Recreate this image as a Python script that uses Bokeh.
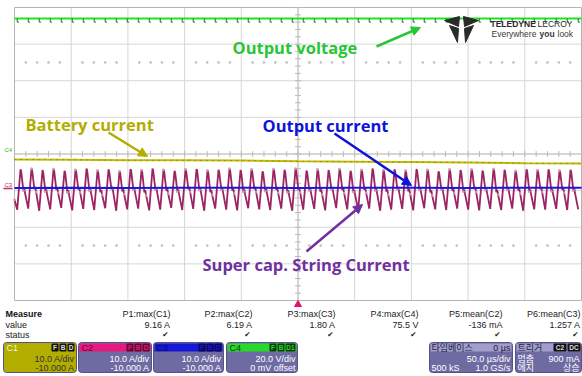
import numpy as np
from bokeh.plotting import figure
from bokeh.models import Range1d, Arrow, NormalHead
from bokeh.core.properties import value
from bokeh.embed import file_html
from bokeh.resources import INLINE

# ---------------- data ----------------
us_per_div = 50.0
x_divs = 10
y_divs = 8

slow_t = [-250, -200, -150, -100, -50, 0, 50, 100, 150, 200, 250]          # µs
output_voltage = [3.70, 3.70, 3.70, 3.70, 3.70, 3.70, 3.70, 3.70, 3.70, 3.70, 3.70]   # div
battery_current = [-0.15, -0.16, -0.17, -0.17, -0.18, -0.20, -0.21, -0.22, -0.23, -0.25, -0.26]
output_current = [-0.93, -0.92, -0.93, -0.92, -0.92, -0.93, -0.92, -0.92, -0.93, -0.92, -0.92]

sc_period_us = 9.70
sc_first_trough_us = -247.6
sc_peak = [-0.42, -0.40, -0.44, -0.41, -0.46, -0.43, -0.40, -0.45, -0.42, -0.47,
           -0.41, -0.44, -0.40, -0.43, -0.46, -0.42, -0.41, -0.45, -0.43, -0.40,
           -0.44, -0.42, -0.47, -0.41, -0.43, -0.40, -0.45, -0.42, -0.44, -0.41,
           -0.46, -0.43, -0.40, -0.44, -0.42, -0.45, -0.41, -0.43, -0.47, -0.42,
           -0.44, -0.42, -0.45, -0.41, -0.43, -0.46, -0.42, -0.44, -0.42, -0.45,
           -0.43, -0.44]
sc_knee = [-1.00, -0.96, -1.03, -0.98, -1.05, -0.97, -1.00, -1.04, -0.95, -1.02,
           -0.98, -1.05, -0.97, -1.00, -1.03, -0.96, -0.99, -1.04, -0.98, -1.00,
           -1.03, -0.96, -1.02, -0.98, -1.05, -0.97, -1.00, -1.03, -0.96, -0.99,
           -1.04, -0.98, -1.00, -1.03, -0.96, -1.02, -0.98, -1.05, -0.97, -1.00,
           -1.03, -0.96, -0.99, -1.04, -0.98, -1.00, -1.03, -0.96, -1.02, -0.98,
           -1.00, -1.03]
sc_trough = [-1.52, -1.49, -1.55, -1.51, -1.47, -1.54, -1.50, -1.53, -1.48, -1.55,
             -1.51, -1.49, -1.54, -1.52, -1.47, -1.53, -1.50, -1.55, -1.49, -1.52,
             -1.54, -1.48, -1.51, -1.53, -1.49, -1.55, -1.52, -1.50, -1.54, -1.48,
             -1.51, -1.53, -1.49, -1.55, -1.52, -1.50, -1.54, -1.48, -1.51, -1.53,
             -1.49, -1.52, -1.54, -1.50, -1.53, -1.49, -1.55, -1.51, -1.52, -1.50,
             -1.53, -1.51]

meas_headers = ["P1:max(C1)", "P2:max(C2)", "P3:max(C3)", "P4:max(C4)", "P5:mean(C2)", "P6:mean(C3)"]
meas_values = ["9.16 A", "6.19 A", "1.80 A", "75.5 V", "-136 mA", "1.257 A"]

ch_names = ["C1", "C2", "C3", "C4"]
ch_scale = ["10.0 A/div", "10.0 A/div", "10.0 A/div", "20.0 V/div"]
ch_offset = ["-10.000 A", "-10.000 A", "-10.000 A", "0 mV offset"]
ch_badges = [["F", "B", "D"], ["F", "B", "D"], ["F", "B", "D"], ["F", "B", "D1"]]

# ---------------- geometry helpers (reference-pixel placement) ----------------
W, H = 582, 376
PX_US = us_per_div * x_divs / 567.0      # µs per screen px
PX_DIV = 1.0 / 36.625                     # div per screen px
XL = -250 - 14 * PX_US
XH = XL + W * PX_US
YH = 4 + 7 * PX_DIV
YL = YH - H * PX_DIV


def X(px):
    return XL + px * PX_US


def Y(py):
    return YH - py * PX_DIV


p = figure(width=W, height=H, output_backend="svg", toolbar_location=None, title=None,
           x_range=Range1d(XL, XH), y_range=Range1d(YL, YH),
           x_axis_location=None, y_axis_location=None,
           min_border=0, min_border_left=0, min_border_right=0,
           min_border_top=0, min_border_bottom=0)
p.grid.visible = False
p.outline_line_color = None
p.background_fill_color = "white"
p.border_fill_color = "white"

# ---------------- graticule ----------------
xl = [-250 + i * us_per_div for i in range(x_divs + 1)]
yl = [-4 + j for j in range(y_divs + 1)]
p.segment(x0=xl[1:-1], y0=-4, x1=xl[1:-1], y1=4, line_color="#d6d6d6", line_width=1)
p.segment(x0=-250, y0=yl[1:-1], x1=250, y1=yl[1:-1], line_color="#d6d6d6", line_width=1)
p.segment(x0=[-250, 250], y0=-4, x1=[-250, 250], y1=4, line_color="#b4b4b4", line_width=1)
p.segment(x0=-250, y0=[-4, 4], x1=250, y1=[-4, 4], line_color="#b4b4b4", line_width=1)

# dotted minor rows
dx = [-250 + i * 10 for i in range(51) if i % 5 != 0]
for yy in (2.5, -2.5):
    p.scatter(x=dx, y=[yy] * len(dx), size=1.5, color="#c4c4c4", marker="square")

# centre crosshair ticks
ty = [-4 + k * 0.2 for k in range(41)]
p.segment(x0=-2.6, y0=ty, x1=2.6, y1=ty, line_color="#b8b8b8", line_width=1)
tx = [-250 + k * 10 for k in range(51)]
p.segment(x0=tx, y0=-0.08, x1=tx, y1=0.08, line_color="#b8b8b8", line_width=1)
p.segment(x0=0, y0=-4, x1=0, y1=4, line_color="#c0c0c0", line_width=1)
p.segment(x0=-250, y0=0, x1=250, y1=0, line_color="#c0c0c0", line_width=1)

# ---------------- traces ----------------
# battery current (yellow)
p.line(slow_t, battery_current, line_color="#c2ba00", line_width=2)
p.line(slow_t, battery_current, line_color="#77700a", line_width=1, line_dash="1 5")

# super-cap string current (purple sawtooth: fast rise, slower fall with a kink)
n = min(len(sc_peak), len(sc_knee), len(sc_trough))
st, sv = [-250.0], [sc_knee[0] - 0.25]
for k in range(n):
    t0 = sc_first_trough_us + k * sc_period_us
    pts = [(0.0, sc_trough[k]), (0.30, sc_peak[k]), (0.36, sc_peak[k] - 0.05),
           (0.56, sc_knee[k]), (0.64, sc_knee[k] + 0.06), (0.72, sc_knee[k] - 0.08)]
    for f, v in pts:
        t = t0 + f * sc_period_us
        if t <= 250.0:
            st.append(t)
            sv.append(v)
p.line(st, sv, line_color="#9c2462", line_width=1.8)
p.scatter(st[::4], sv[::4], size=1.5, color="#d09ab8", marker="square")

# output current (blue)
p.line(slow_t, output_current, line_color="#1818e4", line_width=2)

# output voltage (green) with switching marks
p.line(slow_t, output_voltage, line_color="#1ee61e", line_width=2)
gm = [sc_first_trough_us + k * sc_period_us for k in range(n)]
gm = [t for t in gm if -250 < t < 250]
p.segment(x0=gm, y0=3.70, x1=gm, y1=3.60, line_color="#2a6a2a", line_width=1)
p.segment(x0=gm, y0=3.60, x1=[t + 1.6 for t in gm], y1=3.60, line_color="#2a6a2a", line_width=1)

# channel markers on the left
p.text(x=[X(4)], y=[Y(149)], text=["C4"], text_font=value("Liberation Sans"),
       text_font_size=value("6px"), text_color="#22bb22", text_baseline="middle")
p.text(x=[X(4)], y=[Y(184)], text=["C3"], text_font=value("Liberation Sans"),
       text_font_size=value("6px"), text_color="#c02a6a", text_baseline="middle")
p.segment(x0=[X(3)], y0=[Y(188)], x1=[X(12)], y1=[Y(188)], line_color="#c02a6a", line_width=1.5)

# trigger marker
p.scatter([0], [Y(304)], marker="triangle", size=7, color="#e0146e")

# ---------------- annotations ----------------
LBL = value("Open Sans")


def label(px, py, s, color):
    p.text(x=[X(px)], y=[Y(py)], text=[s], text_font=LBL, text_font_size=value("16.5px"),
           text_font_style="bold", text_color=color, text_baseline="middle")


def arrow(x0, y0, x1, y1, color):
    p.add_layout(Arrow(end=NormalHead(size=9, fill_color=color, line_color=color),
                       x_start=X(x0), y_start=Y(y0), x_end=X(x1), y_end=Y(y1),
                       line_color=color, line_width=2.5))


label(232, 47, "Output voltage", "#27c636")
arrow(376, 46, 420, 27, "#27c636")
label(25, 124, "Battery current", "#b3ad00")
arrow(108, 132, 147, 156, "#b3ad00")
label(262, 125, "Output current", "#0c14d8")
arrow(334, 133, 411, 185, "#0c14d8")
label(202, 264, "Super cap. String Current", "#7030a0")
arrow(306, 251, 362, 204, "#7030a0")

# ---------------- logo ----------------
wings = [
    [(444, 20), (459, 16), (458, 26)],
    [(478, 20), (463, 16), (464, 26)],
    [(449, 25), (458, 28), (457, 42)],
    [(473, 25), (464, 28), (465, 42)],
]
p.patches(xs=[[X(a) for a, b in w] for w in wings], ys=[[Y(b) for a, b in w] for w in wings],
          fill_color="#2a2a2a", line_color="#2a2a2a")
p.text(x=[X(490)], y=[Y(23)], text=["TELEDYNE"], text_font=value("Liberation Sans"),
       text_font_size=value("8.5px"), text_font_style="bold", text_color="#2a2a2a", text_baseline="middle")
p.text(x=[X(537)], y=[Y(23)], text=["LECROY"], text_font=value("Liberation Sans"),
       text_font_size=value("8.5px"), text_color="#2a2a2a", text_baseline="middle")
p.text(x=[X(491), X(539), X(557)], y=[Y(33)] * 3, text=["Everywhere", "you", "look"],
       text_font=value("Liberation Sans"), text_font_size=value("8.5px"),
       text_font_style=["normal", "bold", "normal"], text_color="#3a3a3a", text_baseline="middle")

# ---------------- measurement panel ----------------
AR = value("Liberation Sans")
FS = value("9px")
p.text(x=[X(5)], y=[Y(313)], text=["Measure"], text_font=AR, text_font_size=FS,
       text_font_style="bold", text_color="#111111", text_baseline="middle")
p.text(x=[X(5), X(5)], y=[Y(324), Y(334)], text=["value", "status"], text_font=AR,
       text_font_size=FS, text_color="#222222", text_baseline="middle")
right_px = [170, 252, 335, 418, 502, 580]
p.text(x=[X(r) for r in right_px], y=[Y(313)] * 6, text=meas_headers, text_font=AR,
       text_font_size=FS, text_color="#222222", text_align="right", text_baseline="middle")
p.text(x=[X(r) for r in right_px], y=[Y(324)] * 6, text=meas_values, text_font=AR,
       text_font_size=FS, text_color="#222222", text_align="right", text_baseline="middle")
p.text(x=[X(r - 5) for r in right_px], y=[Y(334)] * 6, text=["\u2714"] * 6, text_font=value("DejaVu Sans"),
       text_font_size=value("7.5px"), text_color="#222222", text_align="center", text_baseline="middle")

BODY = "#6e6aa2"
box_x = [(3, 76), (78, 151), (153, 223), (226, 297)]
head_col = ["#b3ad00", "#e8197e", "#1717d6", "#2ad82a"]
badge_bg = ["#111111", "#5a0a2c", "#0a0a55", "#0c3a0c"]
name_col = ["#f4f4d8", "#5a0a2c", "#0a0a55", "#0c3a0c"]
for i in range(4):
    l, r = box_x[i]
    body = head_col[0] if i == 0 else BODY
    p.quad(left=X(l), right=X(r), top=Y(342), bottom=Y(372), fill_color=body, line_color="#55528a",
           line_width=1, border_radius=3)
    p.quad(left=X(l + 1), right=X(r - 1), top=Y(343), bottom=Y(351), fill_color=head_col[i], line_color=None)
    p.text(x=[X(l + 3)], y=[Y(347)], text=[ch_names[i]], text_font=AR, text_font_size=FS,
           text_color=name_col[i], text_baseline="middle")
    tc = "#333333" if i == 0 else "#ffffff"
    p.text(x=[X(r - 2)] * 2, y=[Y(358), Y(367)], text=[ch_scale[i], ch_offset[i]], text_font=AR,
           text_font_size=FS, text_color=tc, text_align="right", text_baseline="middle")
    bx = r - 2
    for b in reversed(ch_badges[i]):
        w = 7 if len(b) == 1 else 10
        p.quad(left=X(bx - w), right=X(bx), top=Y(343), bottom=Y(351), fill_color=badge_bg[i],
               line_color=None, border_radius=1)
        p.text(x=[X(bx - w / 2)], y=[Y(347)], text=[b], text_font=AR, text_font_size=value("6.5px"),
               text_font_style="bold", text_color=head_col[i] if i else "#dddddd",
               text_align="center", text_baseline="middle")
        bx -= w + 1

# timebase & trigger boxes
KR = value("Noto Sans CJK KR")
for (l, r) in [(429, 512), (515, 581)]:
    p.quad(left=X(l), right=X(r), top=Y(342), bottom=Y(372), fill_color=BODY, line_color="#55528a",
           line_width=1, border_radius=3)
    p.quad(left=X(l + 1), right=X(r - 1), top=Y(343), bottom=Y(351), fill_color="#a29ecb", line_color=None)
p.text(x=[X(431)], y=[Y(347)], text=["타임베이스"], text_font=KR, text_font_size=FS,
       text_color="#222244", text_baseline="middle")
p.text(x=[X(510)], y=[Y(347)], text=["0 µs"], text_font=AR, text_font_size=FS,
       text_color="#222244", text_align="right", text_baseline="middle")
p.text(x=[X(510), X(510)], y=[Y(358), Y(367)], text=["50.0 µs/div", "1.0 GS/s"], text_font=AR,
       text_font_size=FS, text_color="#ffffff", text_align="right", text_baseline="middle")
p.text(x=[X(431)], y=[Y(367)], text=["500 kS"], text_font=AR, text_font_size=FS,
       text_color="#ffffff", text_baseline="middle")
p.text(x=[X(517)], y=[Y(347)], text=["트리거"], text_font=KR, text_font_size=FS,
       text_color="#222244", text_baseline="middle")
p.quad(left=[X(553), X(567)], right=[X(566), X(580)], top=Y(343), bottom=Y(351),
       fill_color="#111111", line_color=None, border_radius=1)
p.text(x=[X(559.5), X(573.5)], y=[Y(347)] * 2, text=["C2", "DC"], text_font=AR, text_font_size=value("6.5px"),
       text_font_style="bold", text_color="#dddddd", text_align="center", text_baseline="middle")
p.text(x=[X(517), X(517)], y=[Y(358), Y(367)], text=["멈춤", "에지"], text_font=KR,
       text_font_size=FS, text_color="#ffffff", text_baseline="middle")
p.text(x=[X(579)], y=[Y(358)], text=["900 mA"], text_font=AR,
       text_font_size=FS, text_color="#ffffff", text_align="right", text_baseline="middle")
p.text(x=[X(579)], y=[Y(367)], text=["상승"], text_font=KR,
       text_font_size=FS, text_color="#ffffff", text_align="right", text_baseline="middle")

open("out.html", "w").write(file_html(p, INLINE))
